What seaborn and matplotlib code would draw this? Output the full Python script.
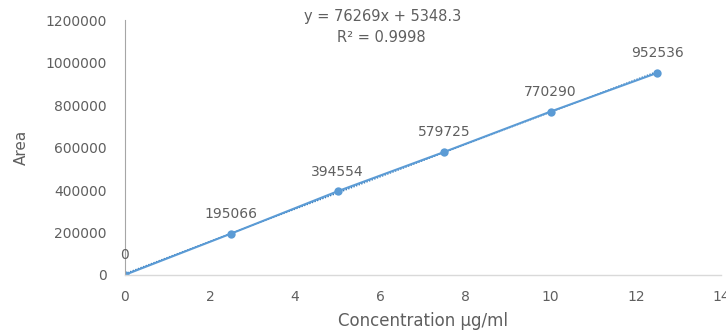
import matplotlib
matplotlib.use("Agg")
import matplotlib.pyplot as plt
import seaborn as sns
import numpy as np
import pandas as pd

# Calibration data
concentration = [0, 2.5, 5, 7.5, 10, 12.5]
area = [0, 195066, 394554, 579725, 770290, 952536]
point_labels = ["0", "195066", "394554", "579725", "770290", "952536"]

# Linear trendline parameters
slope = 76269
intercept = 5348.3
r_squared = 0.9998

x_ticks = [0, 2, 4, 6, 8, 10, 12, 14]
y_ticks = [0, 200000, 400000, 600000, 800000, 1000000, 1200000]

sns.set_theme(style="white")
plt.rcParams["font.family"] = ["DejaVu Sans"]

text_color = "#5f5f5f"
blue = "#5B9BD5"

df = pd.DataFrame({"Concentration": concentration, "Area": area})

fig = plt.figure(figsize=(7.26, 3.36), dpi=100)
ax = fig.add_axes([0.172, 0.182, 0.821, 0.757])

sns.lineplot(data=df, x="Concentration", y="Area", ax=ax, color=blue,
             linewidth=1.5, marker="o", markersize=6, markeredgewidth=0)

# Trendline
fit_x = np.array([concentration[0], concentration[-1]])
ax.plot(fit_x, slope * fit_x + intercept, color="#2E75B6", linewidth=1.0,
        linestyle=(0, (1, 1)), zorder=1)

for xv, yv, lab in zip(concentration, area, point_labels):
    ax.annotate(lab, (xv, yv), xytext=(0, 9), textcoords="offset points",
                ha="center", va="bottom", fontsize=10, color=text_color)

fig.text(0.527, 0.950, f"y = {slope}x + {intercept}", ha="center", va="center",
         fontsize=10.5, color=text_color)
fig.text(0.525, 0.887, f"R² = {r_squared}", ha="center", va="center",
         fontsize=10.5, color=text_color)

ax.set_xlim(0, 14)
ax.set_ylim(0, 1200000)
ax.set_xticks(x_ticks)
ax.set_yticks(y_ticks)
ax.set_xticklabels([str(t) for t in x_ticks])
ax.set_yticklabels([str(t) for t in y_ticks])
ax.tick_params(axis="y", labelsize=10, colors=text_color, length=0, pad=13)
ax.tick_params(axis="x", labelsize=10, colors=text_color, length=0, pad=11)

ax.set_xlabel("Concentration µg/ml", fontsize=12, color=text_color, labelpad=6)
ax.set_ylabel("Area", fontsize=11, color=text_color, labelpad=12)

for side in ["top", "right"]:
    ax.spines[side].set_visible(False)
ax.spines["left"].set_color("#A6A6A6")
ax.spines["left"].set_linewidth(0.8)
ax.spines["bottom"].set_color("#D9D9D9")
ax.spines["bottom"].set_linewidth(1.0)
ax.grid(False)

fig.savefig("out.png", dpi=100)
